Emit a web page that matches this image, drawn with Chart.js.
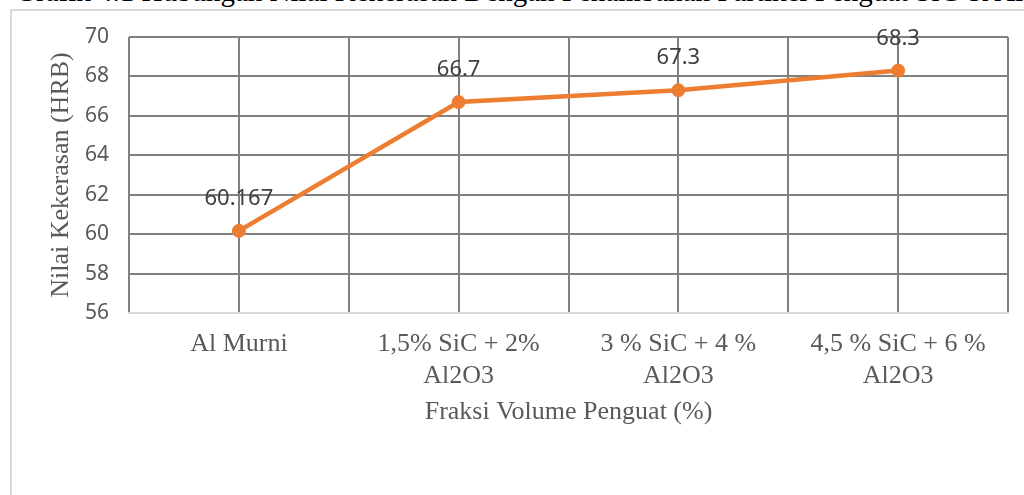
<!DOCTYPE html>
<html>
<head>
<meta charset="utf-8">
<script src="https://cdn.jsdelivr.net/npm/chart.js@4.4.1/dist/chart.umd.min.js"></script>
<style>
  html, body { margin: 0; padding: 0; background: #fff; overflow: hidden; }
  #wrap { position: relative; width: 1024px; height: 495px; overflow: hidden; }
  #heading {
    position: absolute; left: 15px; top: -23px; white-space: nowrap;
    font-family: 'Liberation Serif', 'Times New Roman', serif;
    font-size: 29px; line-height: 29px; color: #000;
  }
  #frame {
    position: absolute; left: 10px; top: 9px; width: 1100px; height: 600px;
    border-left: 2px solid #d9d9d9; border-top: 2px solid #d9d9d9;
  }
  #chart { position: absolute; left: 0; top: 0; }
</style>
</head>
<body>
<div id="wrap">
  <div id="heading">Grafik 4.1 Hubungan Nilai Kekerasan Dengan Penambahan Partikel Penguat SiC &amp; Al2O3</div>
  <div id="frame"></div>
  <canvas id="chart" width="1024" height="495"></canvas>
</div>
<script>
// Hardness per reinforcement fraction
const categories = [
  ['Al Murni'],
  ['1,5% SiC + 2%', 'Al2O3'],
  ['3 % SiC + 4 %', 'Al2O3'],
  ['4,5 % SiC + 6 %', 'Al2O3']
];
const hardness = [60.167, 66.7, 67.3, 68.3];
const yTicks = [56, 58, 60, 62, 64, 66, 68, 70];

const SERIF = "'Liberation Serif', 'Times New Roman', serif";
const SANS = "'Noto Sans', 'Open Sans', sans-serif";
const GRID = '#808080';
const AXIS_TEXT = '#595959';

// Writes each value above its point
const valueLabels = {
  id: 'valueLabels',
  afterDatasetsDraw(chart) {
    const ctx = chart.ctx;
    const meta = chart.getDatasetMeta(0);
    ctx.save();
    ctx.font = '22px ' + SANS;
    ctx.fillStyle = '#404040';
    ctx.textAlign = 'center';
    ctx.textBaseline = 'middle';
    meta.data.forEach((pt, i) => {
      ctx.fillText(String(hardness[i]), pt.x, pt.y - 32);
    });
    ctx.restore();
  }
};

new Chart(document.getElementById('chart'), {
  type: 'line',
  data: {
    datasets: [{
      data: hardness.map((v, i) => ({ x: i, y: v })),
      borderColor: '#ED7D31',
      backgroundColor: '#ED7D31',
      borderWidth: 4.5,
      pointRadius: 6.5,
      pointBorderWidth: 1,
      pointBackgroundColor: '#ED7D31',
      pointBorderColor: '#ED7D31',
      tension: 0
    }]
  },
  options: {
    responsive: false,
    animation: false,
    events: [],
    layout: { padding: { left: 0, top: 37, right: 16, bottom: 0 } },
    plugins: { legend: { display: false }, tooltip: { enabled: false } },
    scales: {
      x: {
        type: 'linear',
        min: -0.5,
        max: 3.5,
        afterFit(scale) { scale.height = 182; },
        ticks: {
          stepSize: 0.5,
          autoSkip: false,
          maxRotation: 0,
          padding: 16,
          color: AXIS_TEXT,
          font: { family: SERIF, size: 26, lineHeight: 1.2 },
          callback: (v) => Number.isInteger(v) && categories[v] ? categories[v] : ''
        },
        grid: { color: GRID, lineWidth: 2, drawTicks: false },
        border: { display: true, color: '#d9d9d9', width: 2 },
        title: {
          display: true,
          text: 'Fraksi Volume Penguat (%)',
          color: AXIS_TEXT,
          font: { family: SERIF, size: 26, lineHeight: 1.2 },
          padding: { top: 0, bottom: 67 }
        }
      },
      y: {
        min: 56,
        max: 70,
        afterFit(scale) { scale.width = 129; },
        afterBuildTicks(scale) { scale.ticks = yTicks.map(v => ({ value: v })); },
        ticks: {
          padding: 20,
          color: AXIS_TEXT,
          font: { family: SANS, size: 21 }
        },
        grid: {
          color: (c) => c.tick && c.tick.value === 56 ? 'rgba(0,0,0,0)' : GRID,
          lineWidth: 2,
          drawTicks: false
        },
        border: { display: false },
        title: {
          display: true,
          text: 'Nilai Kekerasan (HRB)',
          color: AXIS_TEXT,
          font: { family: SERIF, size: 26, lineHeight: 1.2 },
          padding: { top: 46, bottom: 0 }
        }
      }
    }
  },
  plugins: [valueLabels]
});
</script>
</body>
</html>
